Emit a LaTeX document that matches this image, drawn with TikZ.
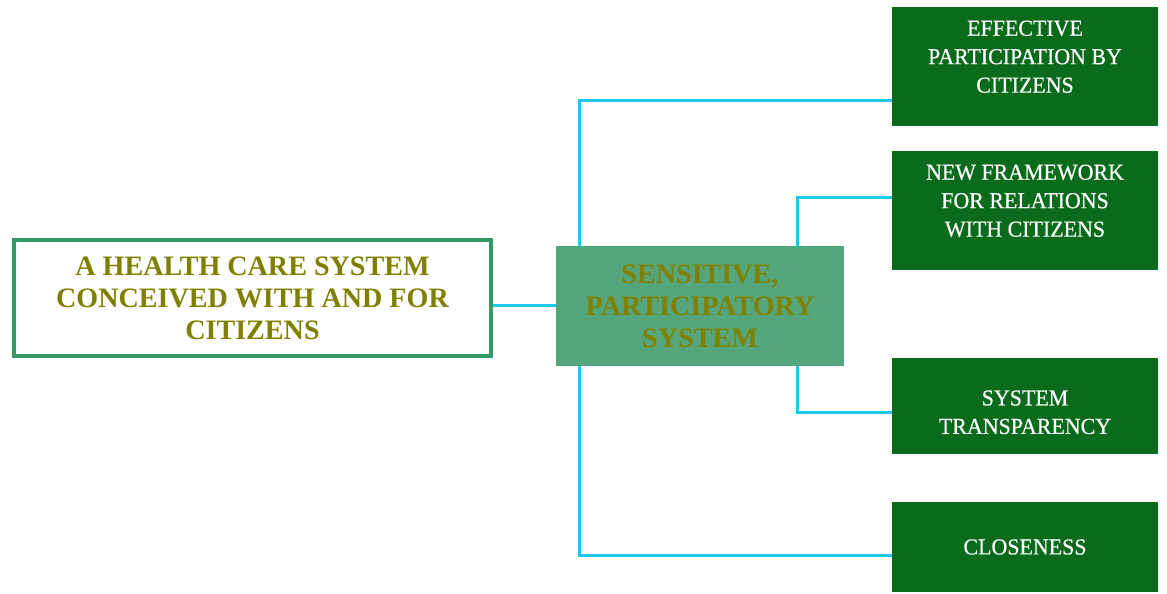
\documentclass[tikz,border=0pt]{standalone}
\usepackage{fontspec}
\setmainfont{Liberation Serif}
\newfontfamily\leaffont[FakeStretch=0.96,FakeBold=0.4]{Liberation Serif}
\usepackage{xcolor}

\definecolor{olivetext}{HTML}{808000}
\definecolor{framegreen}{HTML}{339966}
\definecolor{coregreen}{HTML}{55A67C}
\definecolor{leafgreen}{HTML}{0B6B1C}
\definecolor{linkcyan}{HTML}{1EC8F0}

% raise the lines of a box without changing its size
\newcommand{\liftlines}[2]{\raisebox{#1}[\height][\depth]{\begin{tabular}{@{}c@{}}#2\end{tabular}}}

\tikzset{
  goalbox/.style={draw=framegreen, line width=0.08cm, fill=white, inner sep=0pt,
    minimum width=9.54cm, minimum height=2.32cm, align=center, text=olivetext,
    font=\fontsize{16}{18.2}\selectfont\bfseries},
  corebox/.style={fill=coregreen, inner sep=0pt, minimum width=5.76cm,
    minimum height=2.4cm, align=center, text=olivetext,
    font=\fontsize{16}{18.2}\selectfont\bfseries},
  leafbox/.style={fill=leafgreen, inner sep=0pt, minimum width=5.32cm,
    text=white, font=\leaffont\fontsize{13}{16.2}\selectfont},
  link/.style={draw=linkcyan, line width=0.06cm}
}

\begin{document}
\begin{tikzpicture}[x=0.02cm, y=-0.02cm]
    \useasboundingbox (0,0) rectangle (1167,594);

    \node[goalbox] (Goal) at (252.5, 298) {A HEALTH CARE SYSTEM\\CONCEIVED WITH AND FOR\\CITIZENS};
    \node[corebox] (Core) at (700, 306) {SENSITIVE,\\PARTICIPATORY\\SYSTEM};
    \node[leafbox, minimum height=2.38cm] (Eff)    at (1025, 66.5)  {\liftlines{0.16cm}{EFFECTIVE\\PARTICIPATION BY\\CITIZENS}};
    \node[leafbox, minimum height=2.38cm] (Frame)  at (1025, 210.5) {\liftlines{0.16cm}{NEW FRAMEWORK\\FOR RELATIONS\\WITH CITIZENS}};
    \node[leafbox, minimum height=1.92cm] (Transp) at (1025, 406)   {\liftlines{-0.16cm}{SYSTEM\\TRANSPARENCY}};
    \node[leafbox, minimum height=1.8cm]  (Close)  at (1025, 547)   {CLOSENESS};

    \draw[link] (Goal.east |- Core.west) -- (Core.west);
    \draw[link] ([xshift=0.48cm]Core.north west) |- ([yshift=-0.69cm]Eff.west);
    \draw[link] ([xshift=-0.94cm]Core.north east) |- ([yshift=0.25cm]Frame.west);
    \draw[link] ([xshift=-0.94cm]Core.south east) |- ([yshift=-0.14cm]Transp.west);
    \draw[link] ([xshift=0.48cm]Core.south west) |- ([yshift=-0.18cm]Close.west);
  \end{tikzpicture}
\end{document}
